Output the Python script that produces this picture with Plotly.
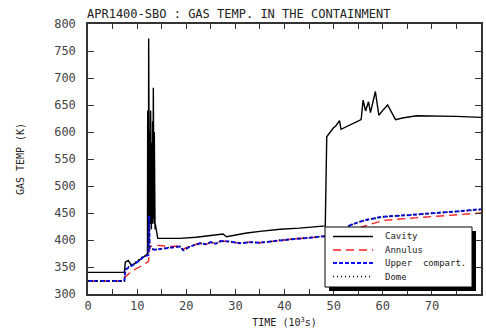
import plotly.graph_objects as go

# ---------------- data ----------------
cavity_t = [0, 7.4, 7.6, 8.2, 8.9, 9.9, 10.9, 11.6, 12.1, 12.15, 12.2, 12.25, 12.3, 12.35,
            12.4, 12.45, 12.5, 12.55, 12.6, 12.65, 12.7, 12.75, 12.8, 12.85, 12.9, 12.95,
            13.0, 13.05, 13.1, 13.15, 13.2, 13.25, 13.3, 13.35, 13.4, 13.45, 13.5, 13.55,
            13.6, 13.65, 13.7, 13.8, 14.2, 15, 18.7, 22, 25.5,
            27.5, 28.2, 30, 32.3, 35, 39.1, 43, 47.9, 48.3, 48.6, 49.9, 50.5, 51.2, 51.5,
            53, 55.6, 56.0, 56.5, 57.1, 57.5, 58.5, 59.2, 60, 61.0, 62.6, 64, 66.9, 71.7,
            75, 80]
cavity_T = [340, 340, 359, 362, 352, 359, 366, 372, 374, 640, 380, 600, 420, 773,
            430, 640, 420, 560, 440, 600, 430, 640, 450, 560, 420, 540,
            440, 580, 430, 620, 440, 560, 682, 450, 560, 430, 600, 420,
            520, 420, 430, 425, 403, 403, 403, 405, 409,
            411, 406, 409, 413, 416, 420, 422, 426, 426, 591, 607, 612, 621, 605,
            612, 623, 659, 639, 656, 636, 675, 631, 640, 650, 623, 626, 630, 630,
            629, 627]

annulus_t = [0, 7.4, 7.6, 9.2, 10.5, 12.3, 12.6, 14, 17, 18.7, 19.4, 20.8, 22.8, 24, 25,
             26, 27, 28.9, 30.9, 33, 35, 37, 39.1, 42, 45, 48, 50, 52, 54, 56, 58, 60,
             65, 70, 75, 80]
annulus_T = [324, 324, 332, 344, 350, 360, 388, 390, 388, 389, 383, 389, 394, 392, 396,
             393, 398, 397, 394, 396, 395, 397, 400, 402, 404, 406, 408, 413, 418, 425,
             430, 436, 440, 443, 447, 450]

upper_t = [0, 7.4, 7.6, 8.5, 9.5, 10.5, 11.3, 12.3, 12.45, 12.55, 13.5, 15, 17, 18.7,
           19.4, 20.8, 22.8, 24, 25, 26, 27, 28.9, 30.9, 33, 35, 37, 39.1, 42, 45, 48,
           50, 52, 53.3, 55, 57, 60, 65, 70, 75, 80]
upper_T = [324, 324, 345, 350, 356, 362, 369, 372, 445, 385, 382, 384, 387, 388,
           381, 388, 394, 392, 396, 393, 398, 397, 394, 396, 395, 397, 400, 402, 404, 407,
           411, 418, 427, 433, 438, 443, 446, 449, 453, 457]

dome_t = [0, 7.4, 7.6, 8.5, 9.5, 10.5, 11.3, 12.3, 12.45, 12.55, 13.5, 15, 17, 18.7,
          19.4, 20.8, 22.8, 24, 25, 26, 27, 28.9, 30.9, 33, 35, 37, 39.1, 42, 45, 48,
          50, 52, 53.3, 55, 57, 60, 65, 70, 75, 80]
dome_T = [324, 324, 346, 352, 358, 364, 370, 373, 440, 386, 382, 384, 387, 388,
          381, 388, 394, 392, 396, 393, 398, 397, 394, 396, 395, 397, 400, 402, 404, 407,
          411, 418, 427, 433, 438, 443, 446, 449, 453, 456]

series_names = ["Cavity", "Annulus", "Upper  compart.", "Dome"]
x_ticks = [0, 10, 20, 30, 40, 50, 60, 70, 80]
y_ticks = [300, 350, 400, 450, 500, 550, 600, 650, 700, 750, 800]

FONT = "DejaVu Sans Mono"
styles = [dict(color="black", width=1.4),
          dict(color="#ff2020", width=1.4, dash="8px,5px"),
          dict(color="#1010ff", width=2, dash="4px,2px"),
          dict(color="black", width=1.4, dash="1px,3px")]

fig = go.Figure()
for name, xs, ys, st in zip(series_names,
                            [cavity_t, annulus_t, upper_t, dome_t],
                            [cavity_T, annulus_T, upper_T, dome_T], styles):
    fig.add_trace(go.Scatter(x=xs, y=ys, mode="lines", name=name, line=st,
                             showlegend=False))

# ---- manual legend (pixel layout converted to plot-area fractions) ----
X0, X1, Y0, Y1 = 88, 481, 24, 294
def px(x):
    return (x - X0) / (X1 - X0)
def py(y):
    return (Y1 - y) / (Y1 - Y0)

# shadow then box
fig.add_shape(type="rect", xref="paper", yref="paper",
              x0=px(329), x1=px(476), y0=py(291), y1=py(231),
              fillcolor="black", line=dict(width=0), layer="above")
fig.add_shape(type="rect", xref="paper", yref="paper",
              x0=px(325), x1=px(472), y0=py(287), y1=py(227),
              fillcolor="white", line=dict(color="black", width=1), layer="above")
rows = [236.5, 250, 263, 276.5]
for name, st, ry in zip(series_names, styles, rows):
    fig.add_shape(type="line", xref="paper", yref="paper",
                  x0=px(333), x1=px(373), y0=py(ry), y1=py(ry),
                  line=st, layer="above")
    fig.add_annotation(x=px(383), y=py(ry), xref="paper", yref="paper",
                       text=name, showarrow=False, xanchor="left", yanchor="middle",
                       font=dict(family=FONT, size=9, color="#222"))

fig.update_layout(
    width=486, height=332,
    margin=dict(l=88, r=5, t=24, b=38, autoexpand=False),
    paper_bgcolor="white", plot_bgcolor="white",
    font=dict(family=FONT, size=11, color="#333"),
    title=dict(text="APR1400-SBO : GAS TEMP. IN THE CONTAINMENT",
               x=87 / 486, xanchor="left", y=1 - 14 / 332, yanchor="middle",
               font=dict(family=FONT, size=12, color="#222")),
    showlegend=False,
    xaxis=dict(range=[0, 80], tickvals=x_ticks, ticks="inside", ticklen=5,
               tickcolor="#333", showline=True, linecolor="#333", linewidth=1.5,
               mirror="allticks", showgrid=False, zeroline=False, automargin=False,
               minor=dict(dtick=5, ticks="inside", ticklen=5, tickcolor="#333"),
               tickfont=dict(family=FONT, size=12, color="#444"),
               title=dict(text="TIME (10<sup>3</sup>s)", standoff=7,
                          font=dict(family=FONT, size=10, color="#222"))),
    yaxis=dict(range=[300, 800], tickvals=y_ticks, ticks="inside", ticklen=6,
               tickcolor="#333", showline=True, linecolor="#333", linewidth=1.5,
               mirror="allticks", showgrid=False, zeroline=False, automargin=False,
               tickfont=dict(family=FONT, size=12, color="#444"),
               ticklabelstandoff=8,
               title=dict(text="GAS TEMP (K)", standoff=28,
                          font=dict(family=FONT, size=10, color="#222"))),
)

fig.write_html("out.html",
               config={"displayModeBar": False},
               post_script="document.body.style.margin='0';"
                           "document.body.style.overflow='hidden';")
